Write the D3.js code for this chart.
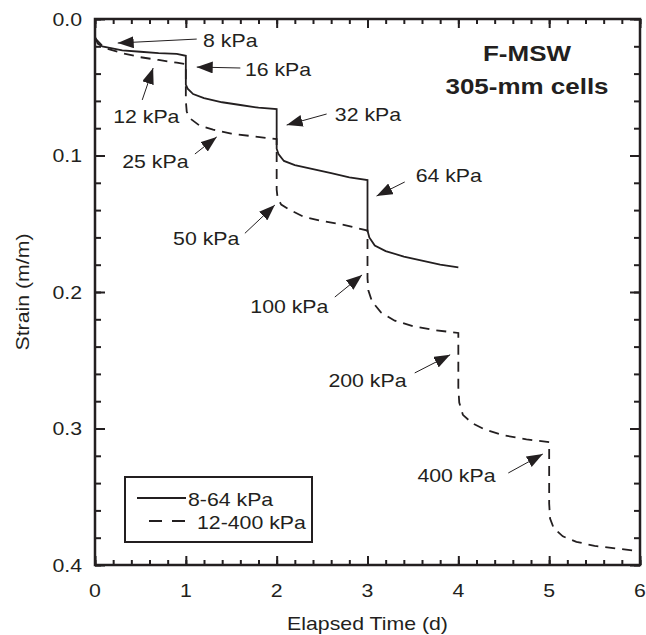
<!DOCTYPE html>
<html>
<head>
<meta charset="utf-8">
<script src="https://cdn.jsdelivr.net/npm/d3@7"></script>
<style>
  body { margin: 0; background: #fff; }
  text { font-family: "Liberation Sans", Arial, sans-serif; fill: #231f20; }
</style>
</head>
<body>
<div id="chart"></div>
<script>
// series 8-64 kPa (solid)
var timeA = [0, 0.03, 0.08, 0.3, 0.5, 0.7, 0.9, 1, 1, 1.02, 1.08, 1.2, 1.4, 1.6, 1.8, 2,
             2, 2.02, 2.08, 2.2, 2.4, 2.6, 2.8, 3, 3, 3.02, 3.08, 3.2, 3.4, 3.6, 3.8, 4];
var strainA = [0.013, 0.018, 0.020, 0.023, 0.024, 0.025, 0.0256, 0.027, 0.048, 0.051, 0.055, 0.058, 0.061, 0.063, 0.065, 0.066,
               0.095, 0.099, 0.104, 0.107, 0.110, 0.113, 0.116, 0.118, 0.155, 0.160, 0.166, 0.170, 0.174, 0.177, 0.180, 0.182];

// series 12-400 kPa (dashed)
var timeB = [0, 0.1, 0.3, 0.5, 0.7, 0.9, 1, 1, 1.01, 1.05, 1.15, 1.3, 1.5, 1.75, 2,
             2, 2.01, 2.05, 2.15, 2.3, 2.5, 2.75, 3, 3, 3.01, 3.05, 3.15, 3.3, 3.5, 3.75, 4,
             4, 4.01, 4.05, 4.15, 4.3, 4.5, 4.75, 5, 5, 5.01, 5.05, 5.15, 5.3, 5.5, 5.75, 6];
var strainB = [0.014, 0.021, 0.025, 0.028, 0.030, 0.032, 0.033, 0.060, 0.068, 0.073, 0.078, 0.081, 0.084, 0.086, 0.088,
               0.125, 0.131, 0.136, 0.140, 0.145, 0.148, 0.151, 0.155, 0.190, 0.199, 0.207, 0.215, 0.221, 0.225, 0.228, 0.230,
               0.270, 0.281, 0.290, 0.296, 0.301, 0.305, 0.308, 0.310, 0.355, 0.366, 0.373, 0.379, 0.383, 0.386, 0.388, 0.390];

var xTicks = [0, 1, 2, 3, 4, 5, 6];
var yTicks = [0.0, 0.1, 0.2, 0.3, 0.4];
var legendLabels = ["8-64 kPa", "12-400 kPa"];
var titleLines = ["F-MSW", "305-mm cells"];

// load labels: text anchor (t, strain) and arrow from -> tip, in data units
var loadLabels = ["8 kPa", "16 kPa", "12 kPa", "25 kPa", "32 kPa", "64 kPa", "50 kPa", "100 kPa", "200 kPa", "400 kPa"];
var labelAt = [[1.19, 0.0205], [1.65, 0.0418], [0.20, 0.0762], [0.30, 0.109], [2.64, 0.0747],
               [3.53, 0.1194], [0.86, 0.1656], [1.71, 0.2154], [2.57, 0.2696], [3.55, 0.3392]];
var arrowFrom = [[1.12, 0.0147], [1.60, 0.0359], [0.52, 0.0593], [1.10, 0.0989], [2.55, 0.0696],
                 [3.41, 0.1194], [1.65, 0.157], [2.64, 0.2037], [3.52, 0.2593], [4.55, 0.3326]];
var arrowTip = [[0.25, 0.0176], [1.12, 0.0352], [0.64, 0.0359], [1.34, 0.0864], [2.11, 0.0777],
                [3.10, 0.1297], [1.98, 0.1363], [2.94, 0.1875], [3.91, 0.246], [4.93, 0.3187]];

var w = 646, h = 635;
var padL = 95, padR = 640, padT = 19, padB = 565;

var svg = d3.select("#chart").append("svg")
    .attr("width", w)
    .attr("height", h);

var x = d3.scaleLinear().domain([0, 6]).range([padL, padR]);
var y = d3.scaleLinear().domain([0, 0.4]).range([padT, padB]);

var minorX = d3.range(0, 6.001, 0.2);
var minorY = d3.range(0, 0.4001, 0.02);

// ticks, inward on all four sides
function tickSet(axis, vals, len) {
  axis.tickValues(vals).tickSize(len).tickFormat("");
  return axis;
}
var g = svg.append("g");
g.append("g").attr("transform", "translate(0," + padB + ")")
  .call(tickSet(d3.axisTop(x), minorX, 5));
g.append("g").attr("transform", "translate(0," + padB + ")")
  .call(tickSet(d3.axisTop(x), xTicks, 9));
g.append("g").attr("transform", "translate(0," + padT + ")")
  .call(tickSet(d3.axisBottom(x), minorX, 5));
g.append("g").attr("transform", "translate(0," + padT + ")")
  .call(tickSet(d3.axisBottom(x), xTicks, 9));
g.append("g").attr("transform", "translate(" + padL + ",0)")
  .call(tickSet(d3.axisRight(y), minorY, 6));
g.append("g").attr("transform", "translate(" + padL + ",0)")
  .call(tickSet(d3.axisRight(y), yTicks, 10));
g.append("g").attr("transform", "translate(" + padR + ",0)")
  .call(tickSet(d3.axisLeft(y), minorY, 6));
g.append("g").attr("transform", "translate(" + padR + ",0)")
  .call(tickSet(d3.axisLeft(y), yTicks, 10));
g.selectAll(".domain").remove();
g.selectAll(".tick line").attr("stroke", "#231f20").attr("stroke-width", 2);

// tick labels
svg.selectAll("text.xl")
  .data(xTicks)
  .enter()
  .append("text")
  .attr("class", "lbl")
  .attr("x", function(d) { return x(d); })
  .attr("y", 597)
  .attr("text-anchor", "middle")
  .text(function(d) { return d; });

svg.selectAll("text.yl")
  .data(yTicks)
  .enter()
  .append("text")
  .attr("class", "lbl")
  .attr("x", 82)
  .attr("y", function(d) { return y(d); })
  .attr("dy", ".35em")
  .attr("text-anchor", "end")
  .text(function(d) { return d.toFixed(1); });

svg.append("text")
  .attr("class", "lbl")
  .attr("x", (padL + padR) / 2)
  .attr("y", 630)
  .attr("text-anchor", "middle")
  .text("Elapsed Time (d)");

svg.append("text")
  .attr("class", "lbl")
  .attr("transform", "translate(29," + (padT + padB) / 2 + ") rotate(-90)")
  .attr("text-anchor", "middle")
  .text("Strain (m/m)");

// curves
var line = d3.line()
  .x(function(d) { return x(d[0]); })
  .y(function(d) { return y(d[1]); });

svg.append("path")
  .attr("d", line(d3.zip(timeA, strainA)))
  .attr("fill", "none")
  .attr("stroke", "#231f20")
  .attr("stroke-width", 1.8);

svg.append("path")
  .attr("d", line(d3.zip(timeB, strainB)))
  .attr("fill", "none")
  .attr("stroke", "#231f20")
  .attr("stroke-width", 1.8)
  .attr("stroke-dasharray", "10,7");

// frame
svg.append("rect")
  .attr("x", padL).attr("y", padT)
  .attr("width", padR - padL).attr("height", padB - padT)
  .attr("fill", "none")
  .attr("stroke", "#231f20")
  .attr("stroke-width", 2.5);

// title
svg.selectAll("text.title")
  .data(titleLines)
  .enter()
  .append("text")
  .attr("class", "ttl")
  .attr("x", 527)
  .attr("y", function(d, i) { return 61 + i * 33; })
  .attr("text-anchor", "middle")
  .style("font-weight", "bold")
  .text(function(d) { return d; });

// load annotations
svg.append("defs").append("marker")
  .attr("id", "head")
  .attr("viewBox", "0 0 16 12")
  .attr("refX", 16).attr("refY", 6)
  .attr("markerWidth", 16).attr("markerHeight", 12)
  .attr("markerUnits", "userSpaceOnUse")
  .attr("orient", "auto")
  .append("path")
  .attr("d", "M0,0 L16,6 L0,12 Z")
  .attr("fill", "#231f20");

svg.selectAll("line.arrow")
  .data(loadLabels)
  .enter()
  .append("line")
  .attr("x1", function(d, i) { return x(arrowFrom[i][0]); })
  .attr("y1", function(d, i) { return y(arrowFrom[i][1]); })
  .attr("x2", function(d, i) { return x(arrowTip[i][0]); })
  .attr("y2", function(d, i) { return y(arrowTip[i][1]); })
  .attr("stroke", "#231f20")
  .attr("stroke-width", 1)
  .attr("marker-end", "url(#head)");

svg.selectAll("text.load")
  .data(loadLabels)
  .enter()
  .append("text")
  .attr("class", "lbl")
  .attr("x", function(d, i) { return x(labelAt[i][0]); })
  .attr("y", function(d, i) { return y(labelAt[i][1]); })
  .text(function(d) { return d; });

// legend
var legend = svg.append("g");
legend.append("rect")
  .attr("x", 125).attr("y", 477)
  .attr("width", 187).attr("height", 65)
  .attr("fill", "#fff")
  .attr("stroke", "#231f20")
  .attr("stroke-width", 2);

legend.append("line")
  .attr("x1", 137).attr("x2", 186)
  .attr("y1", 498).attr("y2", 498)
  .attr("stroke", "#231f20").attr("stroke-width", 2);
legend.append("line")
  .attr("x1", 149).attr("x2", 192)
  .attr("y1", 521).attr("y2", 521)
  .attr("stroke", "#231f20").attr("stroke-width", 2)
  .attr("stroke-dasharray", "13,10");

legend.selectAll("text")
  .data(legendLabels)
  .enter()
  .append("text")
  .attr("class", "lbl")
  .attr("x", function(d, i) { return i == 0 ? 188 : 197; })
  .attr("y", function(d, i) { return 506 + i * 23; })
  .text(function(d) { return d; });

// the original lettering is a bit wider than Arial, stretch it
svg.selectAll("text.lbl").style("font-size", "19px")
  .each(function() {
    var t = d3.select(this);
    t.attr("textLength", this.getComputedTextLength() * 1.12)
     .attr("lengthAdjust", "spacingAndGlyphs");
  });
svg.selectAll("text.ttl").style("font-size", "22px")
  .each(function() {
    var t = d3.select(this);
    t.attr("textLength", this.getComputedTextLength() * 1.18)
     .attr("lengthAdjust", "spacingAndGlyphs");
  });
</script>
</body>
</html>
